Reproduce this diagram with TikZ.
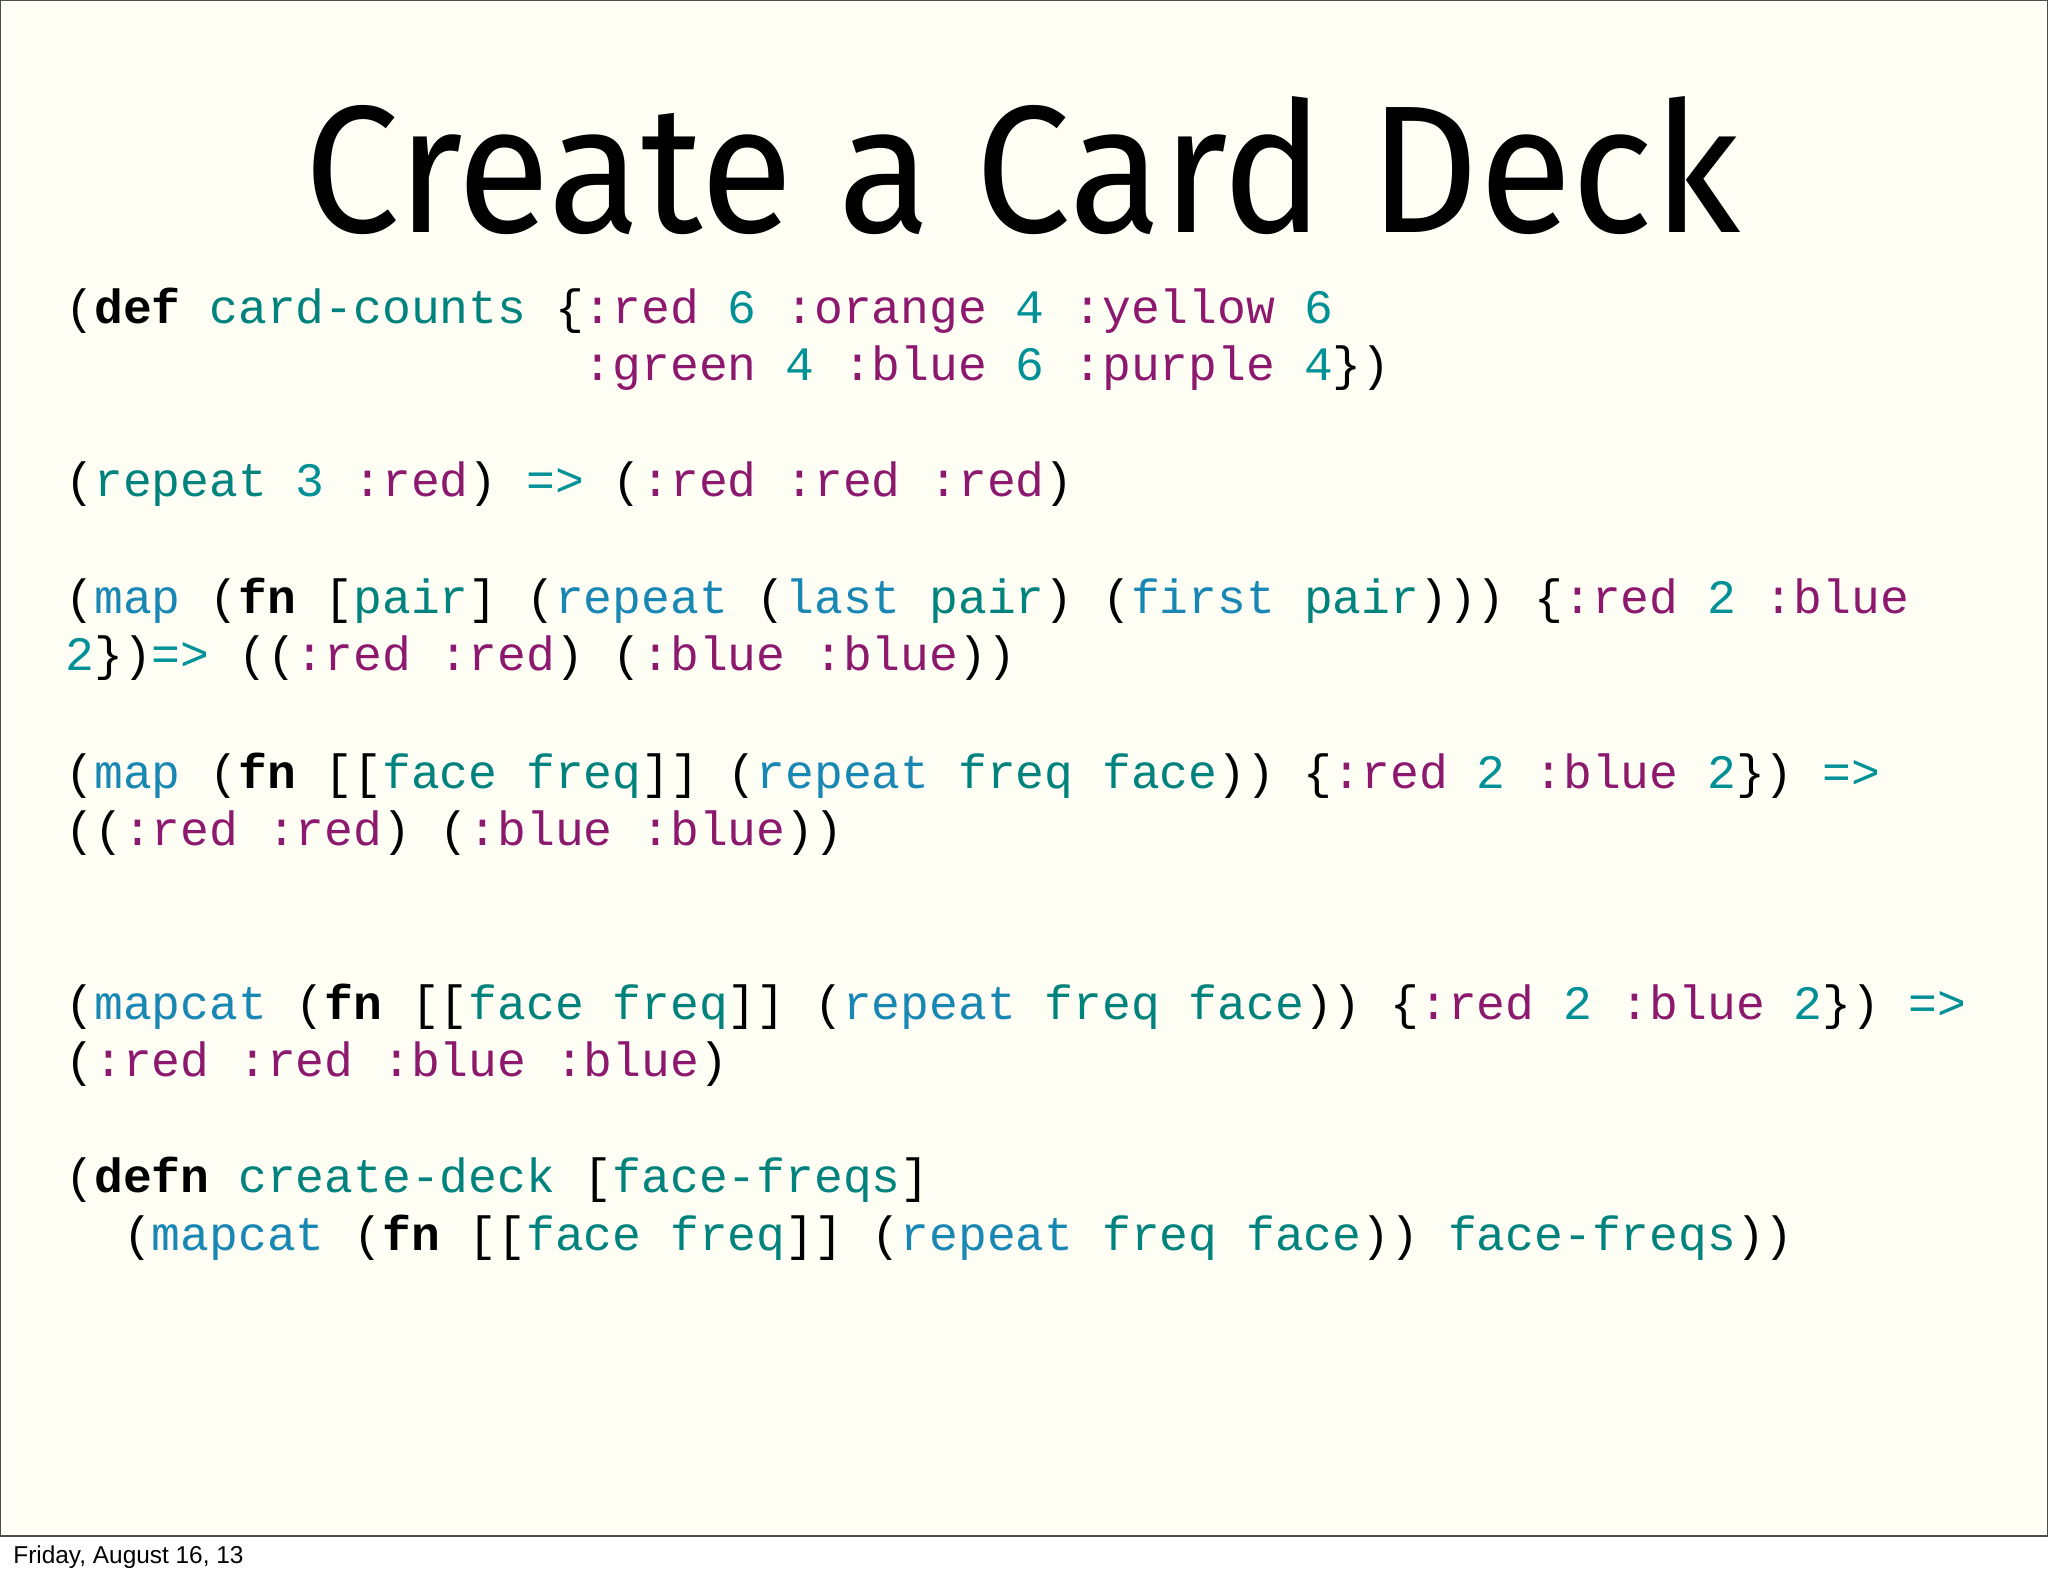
\documentclass[tikz,border=0pt]{standalone}
\usepackage{fontspec}
\newfontfamily\codef{Liberation Mono}
\newfontfamily\titlef{Fira Sans}
\newfontfamily\footf{Liberation Sans}
\definecolor{kwc}{RGB}{140,25,110}
\definecolor{fnc}{RGB}{25,135,180}
\definecolor{vrc}{RGB}{0,130,125}
\definecolor{numc}{RGB}{0,145,150}
\definecolor{bgc}{RGB}{254,254,245}
\newcommand{\kw}[1]{\textcolor{kwc}{#1}}
\newcommand{\fnm}[1]{\textcolor{fnc}{#1}}
\newcommand{\vr}[1]{\textcolor{vrc}{#1}}
\newcommand{\nm}[1]{\textcolor{numc}{#1}}
\newcommand{\bd}[1]{\textbf{#1}}
\tikzset{codeline/.style={anchor=base west,inner sep=0pt,font=\codef\fontsize{24pt}{26pt}\selectfont}}
\begin{document}
\begin{tikzpicture}[x=0.5pt,y=-0.5pt]
\useasboundingbox (0,0) rectangle (2048,1576);
\fill[white] (0,0) rectangle (2048,1576);
\draw[fill=bgc,draw=black!70,line width=0.6pt] (0.5,0.5) rectangle (2047.5,1536);
\node[anchor=base west,inner sep=0pt] (title) at (304,232) {\resizebox{718pt}{68pt}{\titlef\fontsize{90pt}{100pt}\selectfont Create a Card Deck}};
\node[codeline] (l1) at (65,323) {(\bd{def} \vr{card-counts} \{\kw{:red} \nm{6} \kw{:orange} \nm{4} \kw{:yellow} \nm{6}};
\node[codeline] (l2) at (65,380) {\phantom{xxxxxxxxxxxxxxxxxx}\kw{:green} \nm{4} \kw{:blue} \nm{6} \kw{:purple} \nm{4}\})};
\node[codeline] (l3) at (65,496) {(\vr{repeat} \nm{3} \kw{:red}) \nm{=>} (\kw{:red} \kw{:red} \kw{:red})};
\node[codeline] (l4) at (65,613) {(\fnm{map} (\bd{fn} [\vr{pair}] (\fnm{repeat} (\fnm{last} \vr{pair}) (\fnm{first} \vr{pair}))) \{\kw{:red} \nm{2} \kw{:blue}};
\node[codeline] (l5) at (65,670) {\nm{2}\})\nm{=>} ((\kw{:red} \kw{:red}) (\kw{:blue} \kw{:blue}))};
\node[codeline] (l6) at (65,788) {(\fnm{map} (\bd{fn} [[\vr{face} \vr{freq}]] (\fnm{repeat} \vr{freq} \vr{face})) \{\kw{:red} \nm{2} \kw{:blue} \nm{2}\}) \nm{=>}};
\node[codeline] (l7) at (65,845) {((\kw{:red} \kw{:red}) (\kw{:blue} \kw{:blue}))};
\node[codeline] (l8) at (65,1019) {(\fnm{mapcat} (\bd{fn} [[\vr{face} \vr{freq}]] (\fnm{repeat} \vr{freq} \vr{face})) \{\kw{:red} \nm{2} \kw{:blue} \nm{2}\}) \nm{=>}};
\node[codeline] (l9) at (65,1076) {(\kw{:red} \kw{:red} \kw{:blue} \kw{:blue})};
\node[codeline] (l10) at (65,1192) {(\bd{defn} \vr{create-deck} [\vr{face-freqs}]};
\node[codeline] (l11) at (65,1250) {\phantom{xx}(\fnm{mapcat} (\bd{fn} [[\vr{face} \vr{freq}]] (\fnm{repeat} \vr{freq} \vr{face})) \vr{face-freqs}))};
\node[anchor=base west,inner sep=0pt,font=\footf\fontsize{12.2pt}{14pt}\selectfont] (foot) at (13,1563) {Friday, August 16, 13};
\end{tikzpicture}
\end{document}
